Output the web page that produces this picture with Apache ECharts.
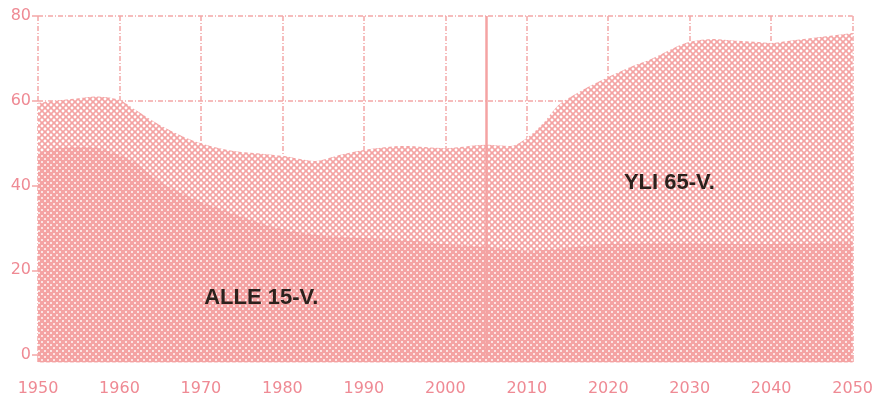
<!DOCTYPE html>
<html>
<head>
<meta charset="utf-8">
<script src="https://cdn.jsdelivr.net/npm/echarts@6/dist/echarts.min.js"></script>
<style>
  html, body { margin: 0; padding: 0; background: #fff; }
  #chart { width: 876px; height: 400px; }
</style>
</head>
<body>
<div id="chart"></div>
<script>
// dependency ratio, Finland 1950-2050
const years = [1950, 1953, 1955, 1957, 1960, 1962, 1965, 1968, 1970, 1973, 1975, 1978, 1980, 1984, 1987,
  1990, 1995, 2000, 2005, 2008, 2010, 2012, 2014, 2016, 2018, 2020, 2023, 2025, 2028, 2030, 2033, 2035,
  2038, 2040, 2042, 2045, 2048, 2050]
// under 15 (lower band)
const under15 = [47.7, 48.9, 49.1, 48.9, 47.2, 45.3, 40.8, 37.8, 36.1, 34.0, 32.6, 30.7, 29.7, 28.4, 27.9,
  27.6, 27.1, 26.2, 25.5, 24.9, 24.5, 24.8, 25.1, 25.5, 25.9, 26.2, 26.3, 26.4, 26.4, 26.4, 26.3, 26.2,
  26.2, 26.2, 26.3, 26.4, 26.6, 26.7]
// under 15 + over 65 (top edge)
const total = [59.5, 60.2, 60.6, 61.0, 60.2, 57.8, 54.2, 51.4, 50.0, 48.5, 47.9, 47.4, 47.0, 45.8, 47.2,
  48.4, 49.3, 48.8, 49.6, 49.3, 51.2, 54.7, 59.2, 61.6, 63.7, 65.6, 68.2, 69.6, 72.4, 73.9, 74.6, 74.3,
  73.9, 73.6, 74.1, 74.8, 75.5, 76.0]
const projectionStart = 2005
const labelUnder15 = 'ALLE 15-V.'
const labelOver65 = 'YLI 65-V.'

const pink = '#f4a3a3'
const textPink = '#ef8a94'
const gridPink = '#f4a6a6'

// halftone tile: pink with white dots on a diagonal lattice
function dots (r) {
  const c = document.createElement('canvas')
  c.width = 6
  c.height = 6
  const ctx = c.getContext('2d')
  ctx.fillStyle = pink
  ctx.fillRect(0, 0, 6, 6)
  ctx.fillStyle = '#ffffff'
  ;[[0, 0], [6, 0], [0, 6], [6, 6], [3, 3]].forEach(function (p) {
    ctx.beginPath()
    ctx.arc(p[0], p[1], r, 0, Math.PI * 2)
    ctx.fill()
  })
  return c
}

const chart = echarts.init(document.getElementById('chart'))

chart.setOption({
  animation: false,
  grid: { left: 38, right: 20, top: 16, bottom: 45 },
  xAxis: {
    type: 'value',
    min: 1950,
    max: 2050,
    interval: 10,
    offset: 8,
    axisLine: { show: false },
    axisTick: { show: true, length: 7, lineStyle: { color: gridPink, width: 1.5 } },
    axisLabel: {
      color: textPink, fontSize: 16, fontFamily: 'DejaVu Sans', margin: 18,
      formatter: v => String(v)
    },
    splitLine: { show: true, lineStyle: { color: gridPink, width: 1.5, type: [5, 2, 1, 2] } }
  },
  yAxis: {
    type: 'value',
    min: 0,
    max: 80,
    interval: 20,
    axisLine: { show: false },
    axisTick: { show: true, length: 6, lineStyle: { color: gridPink, width: 1.5 } },
    axisLabel: { color: textPink, fontSize: 16, fontFamily: 'DejaVu Sans', margin: 7 },
    splitLine: { show: true, lineStyle: { color: gridPink, width: 1.5, type: [5, 2, 1, 2] } }
  },
  series: [
    {
      name: labelOver65,
      type: 'line',
      data: years.map((y, i) => [y, total[i]]),
      smooth: 0.3,
      symbol: 'none',
      clip: false,
      lineStyle: { width: 0 },
      areaStyle: { color: { image: dots(1.45), repeat: 'repeat' }, opacity: 1, origin: -1.7 },
      markPoint: {
        symbol: 'circle',
        symbolSize: 1,
        itemStyle: { color: 'transparent' },
        label: {
          show: true, position: 'inside', color: '#2b211c', fontSize: 22,
          fontWeight: 'bold', fontFamily: 'Liberation Sans'
        },
        data: [{ coord: [2027.5, 40.6], label: { formatter: labelOver65 } }]
      },
      z: 2
    },
    {
      name: labelUnder15,
      type: 'line',
      data: years.map((y, i) => [y, under15[i]]),
      smooth: 0.3,
      symbol: 'none',
      clip: false,
      lineStyle: { width: 0 },
      areaStyle: { color: { image: dots(0.95), repeat: 'repeat' }, opacity: 1, origin: -1.7 },
      markPoint: {
        symbol: 'circle',
        symbolSize: 1,
        itemStyle: { color: 'transparent' },
        label: {
          show: true, position: 'inside', color: '#2b211c', fontSize: 22,
          fontWeight: 'bold', fontFamily: 'Liberation Sans'
        },
        data: [{ coord: [1977.4, 13.5], label: { formatter: labelUnder15 } }]
      },
      markLine: {
        silent: true,
        symbol: 'none',
        label: { show: false },
        lineStyle: { color: pink, width: 2.5, type: 'solid' },
        data: [{ xAxis: projectionStart }]
      },
      z: 3
    }
  ]
})
</script>
</body>
</html>
